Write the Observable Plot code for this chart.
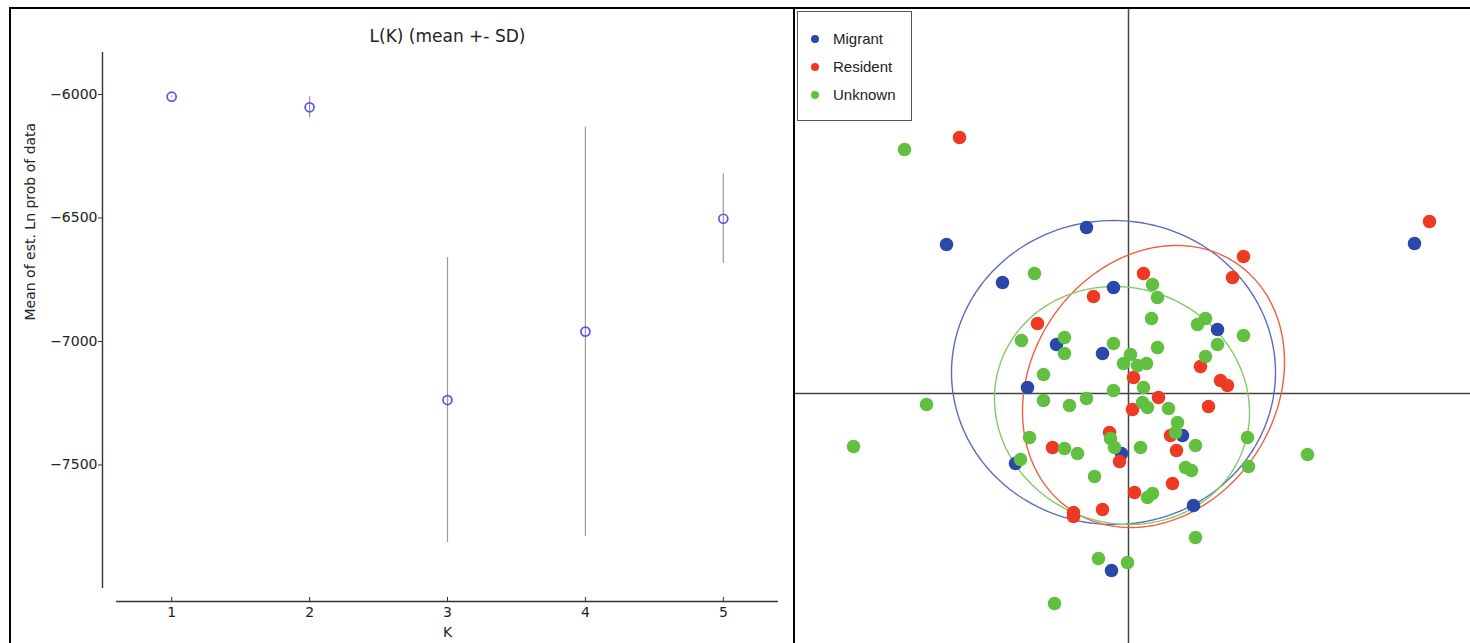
<!DOCTYPE html>
<html>
<head>
<meta charset="utf-8">
<script src="https://cdn.jsdelivr.net/npm/d3@7"></script>
<script src="https://cdn.jsdelivr.net/npm/@observablehq/plot@0.6"></script>
<style>
  html, body { margin: 0; padding: 0; background: #fff; }
  #wrap { position: relative; width: 1470px; height: 643px; overflow: hidden; background: #fff; }
  #left { position: absolute; left: 0; top: 0; }
  #right { position: absolute; left: 795px; top: 9px; }
  .border { position: absolute; background: #000; z-index: 5; }
  #legend { position: absolute; left: 797px; top: 11px; width: 113px; height: 108px;
            border: 1.5px solid #555; background: #fff; z-index: 6;
            font-family: "Liberation Sans", Arial, sans-serif; font-size: 15px; color: #222; }
  .li { position: absolute; left: 0; height: 20px; line-height: 20px; }
  .li span.dot { position: absolute; left: 13px; top: 6px; width: 8px; height: 8px; border-radius: 50%; }
  .li span.lab { position: absolute; left: 35px; top: 0; white-space: nowrap; }
</style>
</head>
<body>
<div id="wrap">
  <div id="left"></div>
  <div id="right"></div>
  <div class="border" style="left:9px; top:7px; width:1461px; height:2px;"></div>
  <div class="border" style="left:9px; top:7px; width:2px; height:636px;"></div>
  <div class="border" style="left:793px; top:7px; width:2px; height:636px;"></div>
  <div id="legend"></div>
</div>
<script>
// ---------- Left panel data: L(K) mean +- SD ----------
const K = [1, 2, 3, 4, 5];
const meanLnP = [-6009, -6052, -7237, -6960, -6503];
const sdLnP = [4, 43, 577, 828, 181];
const yTickValues = [-6000, -6500, -7000, -7500];
const leftTitle = "L(K) (mean +- SD)";
const leftXLabel = "K";
const leftYLabel = "Mean of est. Ln prob of data";

// ---------- Right panel data: PCA-like scatter ----------
const groups = ["Migrant", "Resident", "Unknown"];
const groupColors = ["#2b47aa", "#ee3a22", "#62c040"];
const ellipseColors = ["#5b6ac4", "#f0603e", "#80cc66"];

const migrantX = [-182, -42, 286, -126, -15, 89, -72, -26, -101, 54, -7, -113, 65, -17];
const migrantY = [149, 166, 150, 111, 106, 64, 49, 40, 6, -42, -60, -70, -112, -177];

const residentX = [-169, 301, 115, 15, 104, -35, -91, 72, 5, 92, 99, 30, 4, 80, 42, 48, -76, -19, -9, 44, 6, -55, -55, -26];
const residentY = [256, 172, 137, 120, 116, 97, 70, 27, 16, 13, 8, -4, -16, -13, -42, -57, -54, -39, -68, -90, -99, -119, -123, -116];

const unknownX = [-224, -94, 24, 29, 23, 69, 77, 115, -107, -64, -64, -15, 29, 89, 77, 2, -5, 9, 18, -85, -15, 15, -85, -59, -42, 14, 19, 40, 49, 47, 67, -99, -64, -51, -18, -14, 12, 119, -108, -34, 57, 63, 120, 19, 24, 67, -202, -275, 179, -30, -1, -74];
const unknownY = [244, 120, 109, 96, 75, 69, 75, 58, 53, 56, 40, 50, 46, 49, 37, 39, 30, 28, 30, 19, 3, 6, -7, -12, -5, -9, -14, -15, -29, -39, -52, -44, -55, -60, -45, -54, -54, -44, -66, -83, -74, -77, -73, -104, -100, -144, -11, -53, -61, -165, -169, -210];

// Group ellipses: centre, semi-axes, rotation (degrees)
const ellipseCx = [-15, 25, -6.5];
const ellipseCy = [21, 7, -12];
const ellipseA = [162, 148.5, 128.8];
const ellipseB = [152, 122.5, 117.6];
const ellipseAngle = [0, 56.4, -20.2];

// ---------- Left chart ----------
const rows = K.map((k, i) => ({K: k, mean: meanLnP[i], lo: meanLnP[i] - sdLnP[i], hi: meanLnP[i] + sdLnP[i]}));
const yDomain = [-8000, -5830];
const fmt = d3.format("d");

const left = Plot.plot({
  width: 793, height: 643,
  marginLeft: 116, marginRight: 15, marginTop: 52, marginBottom: 55,
  x: {domain: [0.6, 5.4]},
  y: {domain: yDomain},
  style: {fontFamily: "'DejaVu Sans', sans-serif", fontSize: "14px", color: "#222", background: "transparent"},
  marks: [
    Plot.ruleX([0.6], {dx: -14, stroke: "#333", strokeWidth: 1.4}),
    Plot.ruleY([yDomain[0]], {dy: 13, stroke: "#333", strokeWidth: 1.4}),
    Plot.axisY({ticks: yTickValues, tickFormat: fmt, tickSize: 4, tickPadding: 1, dx: -14, label: null, stroke: "#333"}),
    Plot.axisX({ticks: K, tickFormat: fmt, tickSize: 4, tickPadding: 6, dy: 9, label: null, stroke: "#333"}),
    Plot.ruleX(rows, {x: "K", y1: "lo", y2: "hi", stroke: "#9a9a9a", strokeWidth: 1.2}),
    Plot.dot(rows, {x: "K", y: "mean", r: 4.5, stroke: "#5555f0", strokeWidth: 1.7, fill: "none"}),
    Plot.text([leftTitle], {frameAnchor: "top", dy: -16, fontSize: 17, lineAnchor: "middle"}),
    Plot.text([leftXLabel], {frameAnchor: "bottom", dy: 44, fontSize: 14, lineAnchor: "middle"}),
    Plot.text([leftYLabel], {frameAnchor: "left", dx: -86, rotate: -90, fontSize: 14, lineAnchor: "middle"})
  ]
});
document.getElementById("left").appendChild(left);

// ---------- Right chart ----------
const pts = [];
[[migrantX, migrantY], [residentX, residentY], [unknownX, unknownY]].forEach(([xs, ys], g) => {
  xs.forEach((x, i) => pts.push({group: groups[g], x, y: ys[i]}));
});

const ellipsePts = [];
groups.forEach((g, i) => {
  const th = ellipseAngle[i] * Math.PI / 180;
  for (let t = 0; t <= 360; t += 2) {
    const r = t * Math.PI / 180;
    const ex = ellipseA[i] * Math.cos(r), ey = ellipseB[i] * Math.sin(r);
    ellipsePts.push({
      group: g,
      x: ellipseCx[i] + ex * Math.cos(th) - ey * Math.sin(th),
      y: ellipseCy[i] + ex * Math.sin(th) + ey * Math.cos(th)
    });
  }
});

const right = Plot.plot({
  width: 675, height: 634,
  marginLeft: 0, marginRight: 0, marginTop: 0, marginBottom: 0,
  x: {domain: [-333, 342], axis: null},
  y: {domain: [-250, 384], axis: null},
  color: {domain: groups, range: groupColors},
  style: {background: "transparent"},
  marks: [
    Plot.ruleX([0], {stroke: "#444", strokeWidth: 1.5}),
    Plot.ruleY([0], {stroke: "#444", strokeWidth: 1.5}),
    Plot.line(ellipsePts, {x: "x", y: "y", z: "group", stroke: d => ellipseColors[groups.indexOf(d.group)], strokeWidth: 1.4}),
    Plot.dot(pts, {x: "x", y: "y", r: 6.8, fill: "group", stroke: "none"})
  ]
});
document.getElementById("right").appendChild(right);

// ---------- Legend ----------
const legend = document.getElementById("legend");
groups.forEach((g, i) => {
  const d = document.createElement("div");
  d.className = "li";
  d.style.top = (17 + i * 28) + "px";
  d.style.width = "100%";
  d.innerHTML = `<span class="dot" style="background:${groupColors[i]}"></span><span class="lab">${g}</span>`;
  legend.appendChild(d);
});
</script>
</body>
</html>
